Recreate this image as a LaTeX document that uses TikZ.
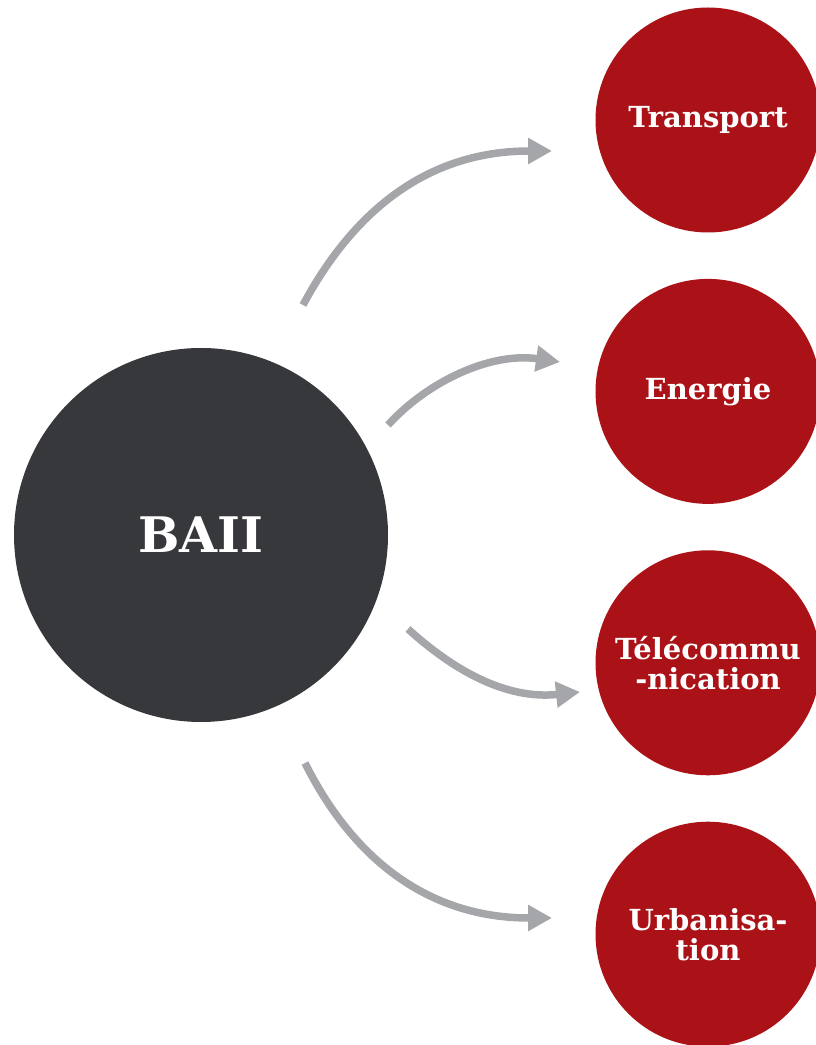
\documentclass[tikz,border=0pt]{standalone}
\usepackage{fontspec}
\setmainfont{DejaVu Serif}
\usepackage{tikz}
\usetikzlibrary{positioning,arrows.meta}
\definecolor{baiigrey}{RGB}{55,56,60}
\definecolor{sectorred}{RGB}{171,18,23}
\definecolor{arrowgrey}{RGB}{165,166,169}

\begin{document}
\begin{tikzpicture}[x=1pt,y=1pt,
	hub/.style={circle, fill=baiigrey, text=white, minimum size=374pt, inner sep=0pt, font=\bfseries\fontsize{49}{49}\selectfont},
	sector/.style={circle, fill=sectorred, text=white, minimum size=225pt, inner sep=0pt, align=center, font=\bfseries\fontsize{29}{30}\selectfont},
	link/.style={draw=arrowgrey, line width=7.5pt, -{Triangle[length=24pt,width=25pt]}}]
\useasboundingbox (0,0) rectangle (815,1045);
\node [hub] (baii) at (201,510) {BAII};
\node [sector] (transport) at (708,925) {Transport};
\node [sector, below=46pt of transport] (energie) {Energie};
\node [sector, below=46pt of energie] (telecom) {Télécommu\\-nication};
\node [sector, below=46pt of telecom] (urban) {Urbanisa-\\tion};
% free ends of the arrows
\coordinate (s1) at (303,740);
\coordinate (s2) at (388,620);
\coordinate (s3) at (408,416);
\coordinate (s4) at (305,282);
\coordinate (e1) at (552,894);
\coordinate (e2) at (560,683);
\coordinate (e3) at (580,353);
\coordinate (e4) at (552,127);
\draw [link] (s1) .. controls +(52,97) and +(-122,0) .. (e1);
\draw [link] (s2) .. controls +(40,44) and +(-69,10) .. (e2);
\draw [link] (s3) .. controls +(44,-40) and +(-75,-8) .. (e3);
\draw [link] (s4) .. controls +(49,-98) and +(-122,0) .. (e4);
\end{tikzpicture}
\end{document}
